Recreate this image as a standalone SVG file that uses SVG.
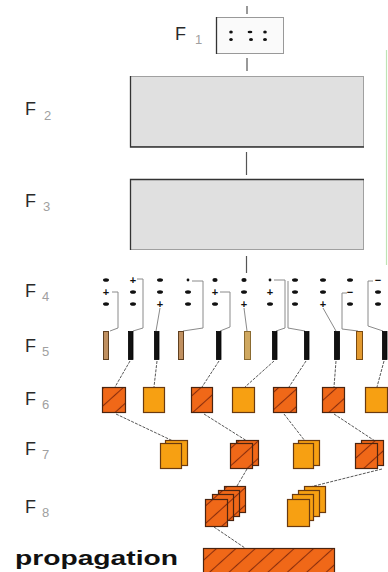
<svg xmlns="http://www.w3.org/2000/svg" width="388" height="572" viewBox="0 0 388 572">
  <style>
    .lbl { font-family: "Liberation Sans", Arial, sans-serif; font-size: 18px; fill: #2a2a2a; }
    .sub { font-family: "Liberation Sans", Arial, sans-serif; font-size: 13px; fill: #a0a0a0; }
    .sym { font-family: "Liberation Sans", Arial, sans-serif; font-size: 11px; font-weight: bold; fill: #111; text-anchor: middle; }
    .blob { fill: #111; }
    .stem { stroke: #555; stroke-width: 1.2; fill: none; }
    .brk { stroke: #8a8a8a; stroke-width: 1; fill: none; }
    .lnk { stroke: #444; stroke-width: 0.9; fill: none; stroke-dasharray: 3 1.2; }
    .grey { fill: #e0e0e0; stroke: #a0a0a0; stroke-width: 1; }
    .edge { stroke: #333; stroke-width: 1.3; fill: none; }
    .bk { fill: #111; stroke: #000; stroke-width: 0.8; }
    .tan { fill: #c09060; stroke: #604020; stroke-width: 1; }
    .hat { fill: url(#hatch); stroke: #4a2410; stroke-width: 1.2; }
    .pln { fill: #f7a012; stroke: #6a3a10; stroke-width: 1.2; }
  </style>
  <defs>
    <pattern id="hatch" patternUnits="userSpaceOnUse" width="13" height="13" patternTransform="rotate(-42)">
      <rect width="13" height="13" fill="#f06818"/>
      <line x1="0" y1="6.5" x2="13" y2="6.5" stroke="#8a2e0c" stroke-width="1.1"/>
    </pattern>
  </defs>

  <rect width="388" height="572" fill="#ffffff"/>
  <line x1="386.5" y1="50" x2="386.5" y2="265" stroke="#bfe3b6" stroke-width="1.2"/>

  <!-- connectors -->
  <g id="connectors">
    <line class="stem" x1="247" y1="6" x2="247" y2="14"/>
    <line class="stem" x1="247" y1="58" x2="247" y2="71"/>
    <line class="stem" x1="246.5" y1="152" x2="246.5" y2="175" stroke="#aaa"/>
    <line class="stem" x1="246.5" y1="256" x2="246.5" y2="273" stroke="#aaa"/>
    <!-- F4 to F5 brackets -->
    <path class="brk" d="M112,292 H118 V328 L110,331"/>
    <path class="brk" d="M137,279 H143 V328 L133,331"/>
    <path class="brk" d="M160,308 L156,331"/>
    <path class="brk" d="M192,281 H203 V328 L183,331"/>
    <path class="brk" d="M220,292 H230 V327 L220,331"/>
    <path class="brk" d="M244,308 L247,331"/>
    <path class="brk" d="M274,280 H285 V328 L276,331"/>
    <path class="brk" d="M288,281 V328 L305,331"/>
    <path class="brk" d="M323,308 L336,331"/>
    <path class="brk" d="M347,293 H342 V329 L358,331"/>
    <path class="brk" d="M373,281 H368 V326 L383,331"/>
    <!-- F5 to F6 -->
    <path class="lnk" d="M130,361 L115,387"/>
    <path class="lnk" d="M157,361 L154,387"/>
    <path class="lnk" d="M219,361 L202,387"/>
    <path class="lnk" d="M274,361 L245,387"/>
    <path class="lnk" d="M306,361 L289,387"/>
    <path class="lnk" d="M336,361 L334,387"/>
    <path class="lnk" d="M384,361 L377,387"/>
    <!-- F6 to F7 -->
    <path class="lnk" d="M116,414 L173,441"/>
    <path class="lnk" d="M204,414 L247,441"/>
    <path class="lnk" d="M284,414 L305,441"/>
    <path class="lnk" d="M334,414 L375,441"/>
    <!-- F7 to F8 -->
    <path class="lnk" d="M247,469 L237,486"/>
    <path class="lnk" d="M382,469 L310,487"/>
    <!-- F8 to propagation -->
    <path class="lnk" d="M214,527 L245,548"/>
  </g>

  <!-- F1 -->
  <g id="F1">
    <text class="lbl" x="175" y="40">F</text>
    <text class="sub" x="195" y="44">1</text>
    <rect x="216.5" y="17.5" width="67" height="36" fill="#fafafa" stroke="#999"/>
    <line class="edge" x1="216.5" y1="17" x2="216.5" y2="54"/>
    <g class="blob">
      <ellipse cx="231" cy="32" rx="1.8" ry="1.5"/><ellipse cx="231" cy="39.5" rx="1.8" ry="1.5"/>
      <ellipse cx="250" cy="32" rx="2.4" ry="1.3"/><ellipse cx="251" cy="39.5" rx="2" ry="1.5"/>
      <ellipse cx="265" cy="32" rx="1.8" ry="1.5"/><ellipse cx="265" cy="39.5" rx="2" ry="1.5"/>
    </g>
  </g>

  <!-- F2 -->
  <g id="F2">
    <text class="lbl" x="25" y="115">F</text>
    <text class="sub" x="44" y="120">2</text>
    <rect class="grey" x="130.5" y="76.5" width="233" height="70"/>
    <path class="edge" d="M130.5,76 V147 H364"/>
  </g>

  <!-- F3 -->
  <g id="F3">
    <text class="lbl" x="25" y="207">F</text>
    <text class="sub" x="43" y="211">3</text>
    <rect class="grey" x="130.5" y="179.5" width="233" height="70"/>
    <path class="edge" d="M130.5,250 V179.5 H364"/>
  </g>

  <!-- F4 -->
  <g id="F4">
    <text class="lbl" x="25" y="297">F</text>
    <text class="sub" x="42" y="301">4</text>
    <g class="blob">
      <ellipse cx="106" cy="280" rx="3" ry="1.8"/><ellipse cx="106" cy="304" rx="3" ry="1.8"/>
      <ellipse cx="133" cy="292" rx="3" ry="1.8"/><ellipse cx="133" cy="304" rx="3" ry="1.8"/>
      <ellipse cx="160" cy="280" rx="3" ry="1.8"/><ellipse cx="160" cy="292" rx="3" ry="1.8"/>
      <circle cx="188" cy="280" r="1.4"/><ellipse cx="188" cy="292" rx="3" ry="1.8"/><ellipse cx="188" cy="304" rx="3" ry="1.8"/>
      <ellipse cx="215" cy="280" rx="2.6" ry="2"/><ellipse cx="215" cy="304" rx="3" ry="1.8"/>
      <ellipse cx="244" cy="280" rx="2.6" ry="2"/><ellipse cx="244" cy="292" rx="3" ry="1.8"/>
      <circle cx="270" cy="280" r="1.4"/><ellipse cx="270" cy="304" rx="3" ry="1.8"/>
      <ellipse cx="295" cy="280" rx="3" ry="1.8"/><ellipse cx="295" cy="292" rx="3" ry="1.8"/><ellipse cx="295" cy="304" rx="3" ry="1.8"/>
      <ellipse cx="323" cy="280" rx="3" ry="1.8"/><ellipse cx="323" cy="292" rx="3" ry="1.8"/>
      <ellipse cx="350" cy="280" rx="3" ry="1.8"/><ellipse cx="350" cy="304" rx="3" ry="1.8"/>
      <ellipse cx="378" cy="292" rx="3" ry="1.8"/><ellipse cx="378" cy="304" rx="3" ry="1.8"/>
    </g>
    <text class="sym" x="106" y="296">+</text>
    <text class="sym" x="133" y="284">+</text>
    <text class="sym" x="160" y="308">+</text>
    <text class="sym" x="215" y="296">+</text>
    <text class="sym" x="244" y="308">+</text>
    <text class="sym" x="270" y="296">+</text>
    <text class="sym" x="323" y="308">+</text>
    <text class="sym" x="350" y="296">−</text>
    <text class="sym" x="378" y="284">−</text>
  </g>

  <!-- F5 -->
  <g id="F5">
    <text class="lbl" x="25" y="352">F</text>
    <text class="sub" x="42" y="356">5</text>
    <rect class="tan" x="103.5" y="331.5" width="5" height="28"/>
    <rect class="bk" x="128.5" y="331.5" width="4.5" height="28"/>
    <rect class="bk" x="154.5" y="331.5" width="4.5" height="28"/>
    <rect class="tan" x="178.5" y="331.5" width="5" height="28"/>
    <rect class="bk" x="216.5" y="331.5" width="4.5" height="28"/>
    <rect x="244.5" y="331.5" width="6" height="28" fill="#cfa860" stroke="#8a6a30"/>
    <rect class="bk" x="272.5" y="331.5" width="4.5" height="28"/>
    <rect class="bk" x="304.5" y="331.5" width="4.5" height="28"/>
    <rect class="bk" x="334.5" y="331.5" width="5" height="28"/>
    <rect x="356.5" y="331.5" width="6" height="28" fill="#e39a30" stroke="#7a4a10"/>
    <rect class="bk" x="382.5" y="331.5" width="4.5" height="28"/>
  </g>

  <!-- F6 -->
  <g id="F6">
    <text class="lbl" x="25" y="405">F</text>
    <text class="sub" x="42" y="409">6</text>
    <rect class="hat" x="102.5" y="387.5" width="23" height="25"/>
    <rect class="pln" x="143.5" y="387.5" width="21" height="25"/>
    <rect class="hat" x="191.5" y="387.5" width="21" height="25"/>
    <rect class="pln" x="232.5" y="387.5" width="22" height="25"/>
    <rect class="hat" x="273.5" y="387.5" width="23" height="25"/>
    <rect class="hat" x="322.5" y="387.5" width="22" height="25"/>
    <rect class="pln" x="365.5" y="387.5" width="22" height="25"/>
  </g>

  <!-- F7 -->
  <g id="F7">
    <text class="lbl" x="25" y="455">F</text>
    <text class="sub" x="42" y="459">7</text>
    <rect class="pln" x="165.5" y="440.5" width="22" height="25"/>
    <rect class="pln" x="160.5" y="443.5" width="21" height="25"/>
    <rect class="hat" x="236.5" y="440.5" width="22" height="25"/>
    <rect class="hat" x="230.5" y="443.5" width="22" height="25"/>
    <rect class="pln" x="298.5" y="440.5" width="21" height="25"/>
    <rect class="pln" x="293.5" y="443.5" width="20" height="25"/>
    <rect class="hat" x="361.5" y="440.5" width="22" height="25"/>
    <rect class="hat" x="355.5" y="443.5" width="22" height="25"/>
  </g>

  <!-- F8 -->
  <g id="F8">
    <text class="lbl" x="25" y="513">F</text>
    <text class="sub" x="42" y="517">8</text>
    <rect class="hat" x="224.5" y="486.5" width="21" height="26"/>
    <rect class="hat" x="218.5" y="490.5" width="21" height="26"/>
    <rect class="hat" x="212.5" y="494.5" width="21" height="26"/>
    <rect class="hat" x="205.5" y="499.5" width="22" height="27"/>
    <rect class="pln" x="304.5" y="486.5" width="21" height="26"/>
    <rect class="pln" x="298.5" y="490.5" width="21" height="26"/>
    <rect class="pln" x="292.5" y="494.5" width="21" height="26"/>
    <rect class="pln" x="287.5" y="499.5" width="22" height="27"/>
  </g>

  <!-- propagation -->
  <g id="propagation">
    <text x="15" y="565" font-family="Liberation Sans, Arial, sans-serif" font-size="20" font-weight="bold" fill="#111" textLength="163" lengthAdjust="spacingAndGlyphs">propagation</text>
    <rect class="hat" x="203.5" y="548.5" width="131" height="30"/>
  </g>
</svg>
